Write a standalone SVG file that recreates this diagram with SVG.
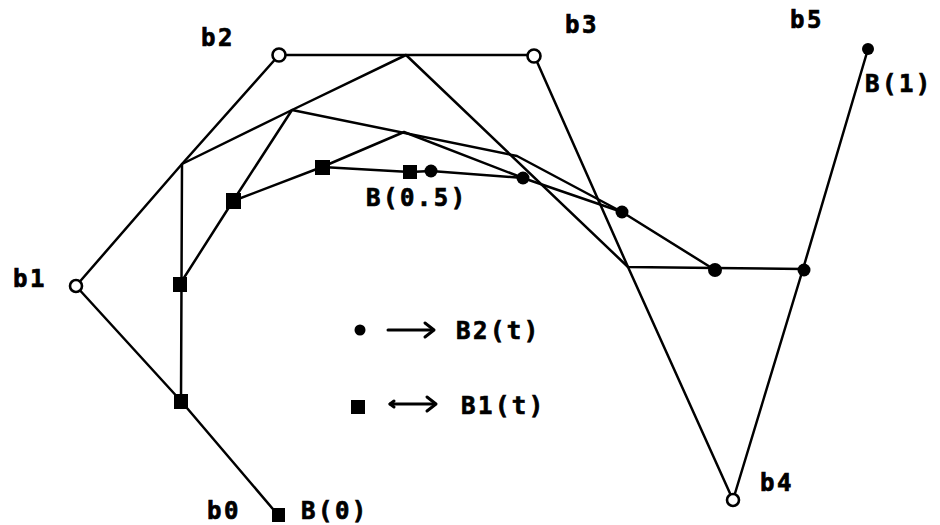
<svg xmlns="http://www.w3.org/2000/svg" width="940" height="525" viewBox="0 0 940 525">
<style>
.ln{fill:none;stroke:#000;stroke-width:2.5;stroke-linejoin:round;stroke-linecap:round}
.oc{fill:#fff;stroke:#000;stroke-width:2.6}
.dot{fill:#000}
.sq{fill:#000}
.lb{font-family:"DejaVu Sans Mono","Liberation Mono",monospace;font-weight:bold;font-size:24px;letter-spacing:2.5px;fill:#000;stroke:#000;stroke-width:0.7}
.ar{fill:none;stroke:#000;stroke-width:3;stroke-linecap:round;stroke-linejoin:round}
</style>
<rect width="940" height="525" fill="#fff"/>
<g id="connectors">
  <polyline class="ln" points="278,515 181,401 76,286 182,164 279,55 534,55 628,267 733,500 803,269 868,49"/>
  <polyline class="ln" points="181,401 182,164 292,110 406,55 628,267 715,268 803,269"/>
  <polyline class="ln" points="180,284 233,201 292,110 517,156 622,212 715,270"/>
  <polyline class="ln" points="233,201 322,167 404,132 523,178 622,212"/>
  <polyline class="ln" points="322,167 410,172 431,171 523,178"/>
</g>
<g id="b0">
  <rect class="sq" x="272" y="508" width="13" height="14"/>
  <text class="lb" x="207" y="519">b0</text>
  <text class="lb" x="301" y="519">B(0)</text>
</g>
<g id="b1">
  <circle class="oc" cx="76" cy="286" r="6"/>
  <text class="lb" x="13" y="287">b1</text>
</g>
<g id="b2">
  <circle class="oc" cx="279" cy="55" r="6.5"/>
  <text class="lb" x="201" y="46">b2</text>
</g>
<g id="b3">
  <circle class="oc" cx="534" cy="56" r="6.5"/>
  <text class="lb" x="565" y="33">b3</text>
</g>
<g id="b4">
  <circle class="oc" cx="733" cy="500" r="6" stroke-width="3.2"/>
  <text class="lb" x="760" y="491">b4</text>
</g>
<g id="b5">
  <circle class="dot" cx="868" cy="49" r="6"/>
  <text class="lb" x="790" y="28">b5</text>
  <text class="lb" x="865" y="92">B(1)</text>
</g>
<g id="b01"><rect class="sq" x="174" y="394" width="14" height="15"/></g>
<g id="b012"><rect class="sq" x="173" y="277" width="14" height="15"/></g>
<g id="b0123"><rect class="sq" x="226" y="193" width="15" height="16"/></g>
<g id="b01234"><rect class="sq" x="315" y="160" width="15" height="15"/></g>
<g id="mid">
  <rect class="sq" x="403" y="165" width="14" height="14"/>
  <circle class="dot" cx="431" cy="171" r="6.5"/>
  <text class="lb" x="366" y="206">B(0.5)</text>
</g>
<g id="b12345"><circle class="dot" cx="523" cy="178" r="6.5"/></g>
<g id="b2345"><circle class="dot" cx="622" cy="212" r="6.5"/></g>
<g id="b345"><circle class="dot" cx="715" cy="270" r="7"/></g>
<g id="b45"><circle class="dot" cx="804" cy="270" r="6.5"/></g>
<g id="legend">
  <circle class="dot" cx="360" cy="330" r="5.5"/>
  <line class="ar" x1="388" y1="330" x2="433" y2="330"/>
  <polyline class="ar" points="425,323 434,330 425,337"/>
  <text class="lb" x="456" y="339">B2(t)</text>
  <rect class="sq" x="351" y="400" width="14" height="14"/>
  <line class="ar" x1="390" y1="404" x2="435" y2="404"/>
  <polyline class="ar" points="427,397 436,404 427,411"/>
  <polyline class="ar" points="394,401 390,404 394,407"/>
  <text class="lb" x="461" y="414">B1(t)</text>
</g>
</svg>
